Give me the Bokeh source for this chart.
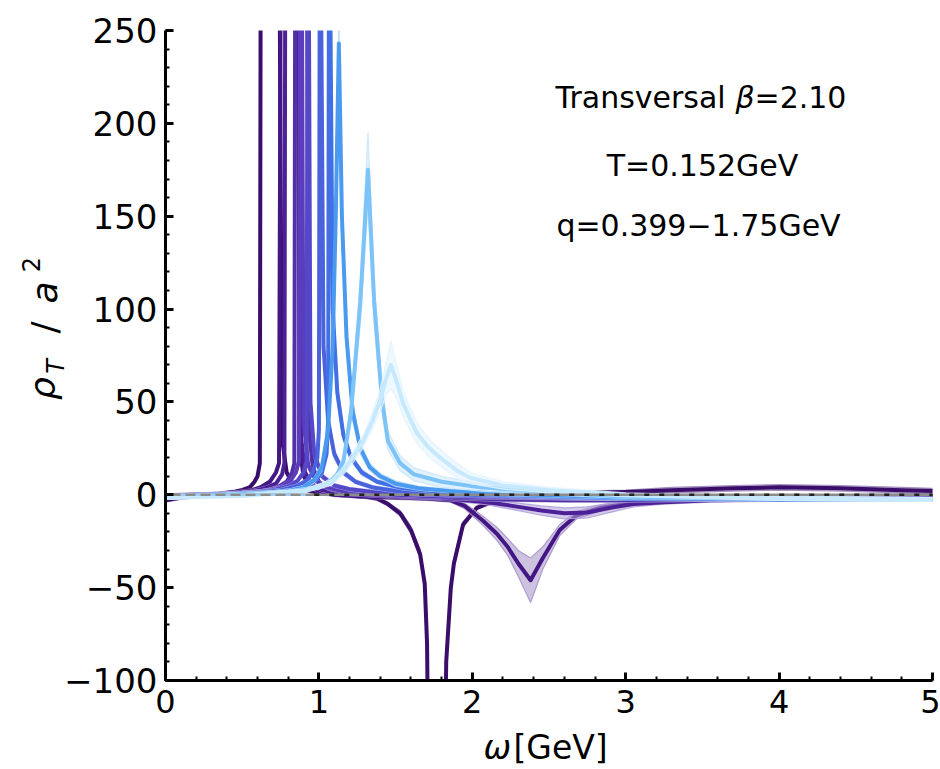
import numpy as np
from bokeh.plotting import figure
from bokeh.models import Range1d, SingleIntervalTicker, Label, CustomJSTickFormatter
from bokeh.embed import file_html
from bokeh.resources import INLINE

# ---------------- data ----------------
# omega [GeV] samples, rho_T/a^2 values, and band half-widths per momentum q
# (values of 260 / -200 stand for points that lie beyond the visible range)
w0 = [0.00, 0.10, 0.20, 0.35, 0.45, 0.50, 0.55, 0.58, 0.60, 0.615, 0.62, 0.745, 0.76, 0.79, 0.83, 0.90, 1.00, 1.15, 1.30, 1.38, 1.45, 1.53, 1.60, 1.66, 1.69, 1.705, 1.72, 1.81, 1.83, 1.86, 1.88, 1.94, 2.03, 2.18, 2.40, 2.70, 3.00, 3.30, 3.70, 4.00, 4.40, 4.80, 5.00]
y0 = [-3.0, -1.5, -0.5, 0.5, 1.5, 2.5, 4.0, 7.0, 10.0, 17.0, 260, 260, 30.0, 12.0, 6.0, 3.0, 1.0, 0.0, -1.0, -2.0, -5.0, -10.0, -19.0, -32.0, -48.0, -80.0, -200, -200, -90.0, -50.0, -37.0, -16.0, -7.0, -2.0, 0.0, 1.0, 1.5, 2.5, 3.5, 4.0, 3.5, 2.5, 2.0]
e0 = [1.0, 1.0, 1.0, 1.0, 1.0, 1.0, 1.0, 1.0, 1.0, 1.5, 2, 2, 2.0, 1.5, 1.0, 1.0, 1.0, 1.0, 1.0, 1.0, 1.0, 1.5, 2.0, 2.5, 3.0, 4.0, 5, 5, 4.0, 3.0, 2.5, 1.5, 1.0, 1.0, 1.0, 1.0, 1.0, 1.5, 1.5, 1.5, 1.5, 1.5, 1.5]

w1 = [0.00, 0.20, 0.40, 0.55, 0.62, 0.68, 0.72, 0.74, 0.75, 0.865, 0.875, 0.90, 0.95, 1.00, 1.10, 1.30, 1.50, 1.70, 1.86, 1.95, 2.07, 2.16, 2.23, 2.30, 2.38, 2.46, 2.57, 2.68, 2.84, 3.00, 3.30, 3.70, 4.20, 5.00]
y1 = [-1.0, 0.0, 0.5, 2.0, 4.0, 7.0, 12.0, 17.0, 260, 260, 25.0, 10.0, 4.0, 2.0, 0.0, -1.0, -1.5, -2.0, -3.0, -6.0, -14.0, -21.0, -28.0, -37.0, -46.0, -34.0, -19.0, -11.0, -7.0, -5.0, -3.0, -2.0, -1.0, -0.5]
e1 = [1.0, 1.0, 1.0, 1.0, 1.0, 1.0, 1.0, 1.5, 2, 2, 2.0, 1.5, 1.0, 1.0, 1.0, 1.0, 1.0, 1.0, 1.0, 1.5, 2.5, 3.5, 4.5, 7.0, 12.0, 6.0, 3.0, 2.0, 1.5, 1.0, 1.0, 1.0, 1.0, 1.0]

w2 = [0.00, 0.20, 0.40, 0.55, 0.65, 0.72, 0.76, 0.775, 0.78, 0.875, 0.885, 0.91, 0.96, 1.02, 1.12, 1.30, 1.50, 1.70, 1.90, 2.10, 2.30, 2.45, 2.60, 2.75, 2.90, 3.05, 3.25, 3.55, 4.00, 4.50, 5.00]
y2 = [-0.5, 0.0, 0.5, 1.5, 3.5, 6.0, 11.0, 17.0, 260, 260, 30.0, 12.0, 5.0, 2.5, 1.0, 0.0, -1.0, -1.5, -2.5, -4.0, -6.5, -8.5, -10.0, -9.5, -7.0, -5.0, -4.0, -3.0, -2.5, -2.0, -2.0]
e2 = [1.0, 1.0, 1.0, 1.0, 1.0, 1.0, 1.0, 1.5, 2, 2, 2.0, 1.5, 1.0, 1.0, 1.0, 1.0, 1.0, 1.0, 1.0, 1.5, 2.0, 2.5, 3.0, 3.0, 2.5, 1.5, 1.0, 1.0, 1.0, 1.0, 1.0]

w3 = [0.00, 0.30, 0.50, 0.65, 0.73, 0.79, 0.825, 0.84, 0.845, 0.925, 0.935, 0.96, 1.00, 1.06, 1.15, 1.30, 1.50, 1.80, 2.20, 2.60, 3.00, 3.50, 4.00, 5.00]
y3 = [-0.5, 0.0, 0.8, 2.0, 4.0, 7.0, 12.0, 17.0, 260, 260, 35.0, 15.0, 7.0, 3.5, 1.5, 0.5, -0.5, -1.5, -2.5, -3.0, -3.0, -2.5, -2.0, -1.5]
e3 = [1.0, 1.0, 1.0, 1.0, 1.0, 1.0, 1.0, 1.5, 2, 2, 2.5, 1.5, 1.0, 1.0, 1.0, 1.0, 1.0, 1.0, 1.0, 1.0, 1.0, 1.0, 1.0, 1.0]

w4 = [0.00, 0.30, 0.50, 0.65, 0.75, 0.81, 0.85, 0.87, 0.875, 0.89, 0.90, 0.93, 0.98, 1.05, 1.15, 1.30, 1.50, 1.80, 2.30, 3.00, 4.00, 5.00]
y4 = [-0.5, 0.0, 0.8, 2.0, 4.0, 7.0, 12.0, 18.0, 260, 260, 40.0, 16.0, 7.5, 4.0, 2.0, 1.0, 0.0, -1.0, -1.5, -2.0, -2.0, -2.0]
e4 = [1.0, 1.0, 1.0, 1.0, 1.0, 1.0, 1.0, 1.5, 2, 2, 3.0, 2.0, 1.0, 1.0, 1.0, 1.0, 1.0, 1.0, 1.0, 1.0, 1.0, 1.0]

w5 = [0.00, 0.30, 0.55, 0.70, 0.80, 0.86, 0.90, 0.92, 0.925, 0.935, 0.945, 0.97, 1.02, 1.10, 1.20, 1.35, 1.60, 2.00, 2.50, 3.00, 4.00, 5.00]
y5 = [-1.0, 0.0, 1.0, 2.5, 4.5, 7.5, 12.0, 18.0, 260, 260, 50.0, 22.0, 10.0, 5.0, 3.0, 1.5, 0.5, -0.5, -1.5, -2.0, -2.5, -2.5]
e5 = [1.0, 1.0, 1.0, 1.0, 1.0, 1.0, 1.0, 1.5, 2, 2, 3.0, 2.0, 1.5, 1.0, 1.0, 1.0, 1.0, 1.0, 1.0, 1.0, 1.0, 1.0]

w6 = [0.00, 0.30, 0.60, 0.75, 0.85, 0.92, 0.96, 0.99, 1.00, 1.005, 1.015, 1.03, 1.06, 1.10, 1.16, 1.24, 1.35, 1.50, 1.80, 2.20, 3.00, 4.00, 5.00]
y6 = [-1.0, 0.0, 1.0, 2.5, 4.5, 7.5, 12.0, 20.0, 35.0, 260, 260, 80.0, 40.0, 22.0, 12.0, 7.0, 4.0, 2.0, 0.5, -0.5, -2.0, -2.5, -2.5]
e6 = [1.0, 1.0, 1.0, 1.0, 1.0, 1.0, 1.0, 1.5, 3.0, 2, 2, 6.0, 4.0, 2.5, 1.5, 1.0, 1.0, 1.0, 1.0, 1.0, 1.0, 1.0, 1.0]

w7 = [0.00, 0.30, 0.60, 0.80, 0.90, 0.97, 1.02, 1.05, 1.06, 1.065, 1.075, 1.09, 1.12, 1.16, 1.21, 1.28, 1.38, 1.55, 1.80, 2.20, 3.00, 4.00, 5.00]
y7 = [-1.5, -0.5, 0.5, 2.0, 4.0, 7.0, 12.0, 22.0, 40.0, 260, 260, 100.0, 55.0, 32.0, 20.0, 12.0, 7.0, 3.5, 1.5, 0.0, -2.0, -2.5, -2.5]
e7 = [1.0, 1.0, 1.0, 1.0, 1.0, 1.0, 1.5, 2.0, 3.0, 2, 2, 8.0, 5.0, 3.0, 2.0, 1.5, 1.0, 1.0, 1.0, 1.0, 1.0, 1.0, 1.0]

w8 = [0.00, 0.30, 0.60, 0.80, 0.90, 0.97, 1.02, 1.06, 1.09, 1.11, 1.13, 1.15, 1.18, 1.22, 1.27, 1.33, 1.40, 1.50, 1.65, 1.85, 2.20, 3.00, 4.00, 5.00]
y8 = [-1.5, -0.5, 0.5, 2.0, 4.0, 8.0, 15.0, 35.0, 80.0, 150.0, 243.0, 150.0, 85.0, 45.0, 25.0, 15.0, 10.0, 6.0, 3.5, 2.0, 0.5, -1.5, -2.0, -2.5]
e8 = [1.0, 1.0, 1.0, 1.0, 1.0, 1.5, 2.0, 4.0, 8.0, 12.0, 16.0, 12.0, 8.0, 5.0, 3.0, 2.0, 1.5, 1.5, 1.0, 1.0, 1.0, 1.0, 1.0, 1.0]

w9 = [0.00, 0.40, 0.80, 1.00, 1.08, 1.12, 1.16, 1.21, 1.27, 1.32, 1.36, 1.41, 1.45, 1.53, 1.62, 1.80, 2.05, 2.50, 3.00, 4.00, 5.00]
y9 = [-1.0, 0.0, 1.5, 4.0, 7.5, 11.0, 18.0, 45.0, 104.0, 175.0, 104.0, 52.0, 29.0, 17.0, 11.0, 7.0, 4.0, 1.5, -1.0, -2.0, -2.5]
e9 = [1.0, 1.0, 1.0, 1.0, 1.5, 2.0, 3.0, 6.0, 12.0, 20.0, 12.0, 7.0, 5.0, 4.0, 3.5, 3.0, 2.0, 1.5, 1.0, 1.0, 1.0]

w10 = [0.00, 0.50, 0.90, 1.08, 1.16, 1.22, 1.29, 1.35, 1.40, 1.44, 1.47, 1.51, 1.55, 1.60, 1.64, 1.72, 1.79, 1.90, 1.99, 2.20, 2.50, 3.00, 4.00, 5.00]
y10 = [-1.5, -0.5, 2.0, 6.5, 13.0, 20.0, 29.0, 40.0, 51.0, 63.0, 70.0, 60.0, 49.0, 40.0, 33.0, 25.0, 20.0, 13.0, 9.0, 5.0, 2.5, 0.0, -2.0, -2.5]
e10 = [1.0, 1.0, 1.0, 1.5, 2.0, 3.0, 3.5, 4.5, 6.0, 9.0, 13.0, 9.0, 7.0, 6.0, 5.5, 5.0, 4.5, 4.0, 3.0, 2.0, 1.5, 1.0, 1.0, 1.0]

curves_w = [w0, w1, w2, w3, w4, w5, w6, w7, w8, w9, w10]
curves_y = [y0, y1, y2, y3, y4, y5, y6, y7, y8, y9, y10]
curves_e = [e0, e1, e2, e3, e4, e5, e6, e7, e8, e9, e10]

line_colors = ["#3a0d6b", "#431684", "#4c2197", "#5230a8", "#5a3cbc", "#5548c8",
               "#4a62dc", "#4270e4", "#4a9af0", "#7cc4f8", "#c6e9fe"]
band_colors = ["#9a84b8", "#a690c8", "#b0a0d8", "#b0a6dc", "#b4ace0", "#b0b4e8",
               "#a8b8f0", "#a8c0f0", "#b8d8f8", "#c8e6fc", "#e2f3ff"]

zero_x = [0.0, 5.0]
zero_y = [0.0, 0.0]
zero_dash_x = [0.97, 5.0]
zero_dash_x_light = [0.0, 0.97]

x_lo, x_hi = 0.0, 5.0
y_lo, y_hi = -100.0, 250.0
x_ticks_interval = 1
y_ticks_interval = 50

# ---------------- layout: pixel frame of the plotting box ----------------
W, H = 940, 769
PX_X0, PX_X1 = 165.0, 932.0     # pixel of omega = 0 and omega = 5
PY_TOP, PY_BOT = 30.0, 680.0    # pixel of 250 and -100
sx = (PX_X1 - PX_X0) / (x_hi - x_lo)
sy = (PY_BOT - PY_TOP) / (y_hi - y_lo)

def dx(px):
    return x_lo + (px - PX_X0) / sx

def dy(py):
    return y_hi - (py - PY_TOP) / sy

p = figure(width=W, height=H, x_range=Range1d(dx(0), dx(W)), y_range=Range1d(dy(H), dy(0)),
           output_backend="svg", toolbar_location=None, min_border=0)
p.xgrid.visible = False
p.ygrid.visible = False
p.outline_line_color = None
p.background_fill_color = "white"
p.border_fill_color = "white"

for ax, size, standoff in ((p.xaxis, "32px", 9), (p.yaxis, "34px", 8)):
    ax.axis_line_width = 3
    ax.axis_line_color = "black"
    ax.major_tick_in = 8
    ax.major_tick_out = 0
    ax.minor_tick_in = 4
    ax.minor_tick_out = 0
    ax.major_tick_line_width = 3
    ax.minor_tick_line_width = 2
    ax.major_tick_line_color = "black"
    ax.minor_tick_line_color = "black"
    ax.major_label_text_font = "DejaVu Sans"
    ax.major_label_text_font_size = size
    ax.major_label_text_color = "black"
    ax.major_label_standoff = standoff

p.xaxis.fixed_location = y_lo
p.yaxis.fixed_location = x_lo
p.xaxis.bounds = (x_lo, x_hi)
p.yaxis.bounds = (y_lo, y_hi)
p.xaxis.ticker = SingleIntervalTicker(interval=x_ticks_interval, num_minor_ticks=5)
p.yaxis.ticker = SingleIntervalTicker(interval=y_ticks_interval, num_minor_ticks=5)
p.yaxis.formatter = CustomJSTickFormatter(code="return tick < 0 ? '\u2212' + Math.abs(tick) : String(tick);")

# curves with bands
for w, y, e, lc, bc in zip(curves_w, curves_y, curves_e, line_colors, band_colors):
    w = np.array(w); y = np.array(y); e = np.array(e)
    p.varea(x=w, y1=y - e, y2=y + e, fill_color=bc, fill_alpha=0.55)
    p.line(w, y - e, line_color=bc, line_width=1.2, line_alpha=0.85)
    p.line(w, y + e, line_color=bc, line_width=1.2, line_alpha=0.85)
    p.line(w, y, line_color=lc, line_width=4, line_join="round")

# zero line
p.line(zero_x, zero_y, line_color="#8c8c8c", line_width=2.5)
p.line(zero_dash_x_light, zero_y, line_color="#9fd0f4", line_width=2.5, line_dash="5 10")
p.line(zero_dash_x, zero_y, line_color="#222222", line_width=2.5, line_dash="5 10")

# white masks outside the plotting box (clip the curves at 250 and -100)
p.quad(left=[dx(-200)], right=[dx(W + 200)], bottom=[y_hi], top=[dy(-400)],
       fill_color="white", fill_alpha=1.0, line_color=None)
p.quad(left=[dx(-200)], right=[dx(W + 200)], bottom=[dy(H + 400)], top=[y_lo],
       fill_color="white", fill_alpha=1.0, line_color=None)

FONT = "DejaVu Sans"
def lab(px, py, text, size, style="normal", align="left", baseline="alphabetic", angle=0.0):
    p.add_layout(Label(x=dx(px), y=dy(py), text=text, text_font=FONT, text_font_style=style,
                       text_font_size=size, text_align=align, text_baseline=baseline,
                       angle=angle, text_color="black"))

# annotation text
lab(555, 97, "Transversal", "30px")
lab(735, 97, "β", "30px", style="italic")
lab(754, 97, "=2.10", "30px")
lab(702, 165, "T=0.152GeV", "30px", align="center")
lab(698, 225, "q=0.399\u22121.75GeV", "30px", align="center")

# x axis label
lab(483, 747, "ω", "33px", style="italic")
lab(513, 747, "[GeV]", "33px")

# y axis label pieces (rotated)
ang = np.pi / 2
lab(42, 388, "ρ", "36px", style="italic", align="center", baseline="middle", angle=ang)
lab(55, 366, "T", "24px", style="italic", align="center", baseline="middle", angle=ang)
lab(44, 327, "/", "36px", align="center", baseline="middle", angle=ang)
lab(44, 292, "a", "36px", style="italic", align="center", baseline="middle", angle=ang)
lab(30, 264, "2", "24px", align="center", baseline="middle", angle=ang)

open("out.html", "w").write(file_html(p, INLINE))
